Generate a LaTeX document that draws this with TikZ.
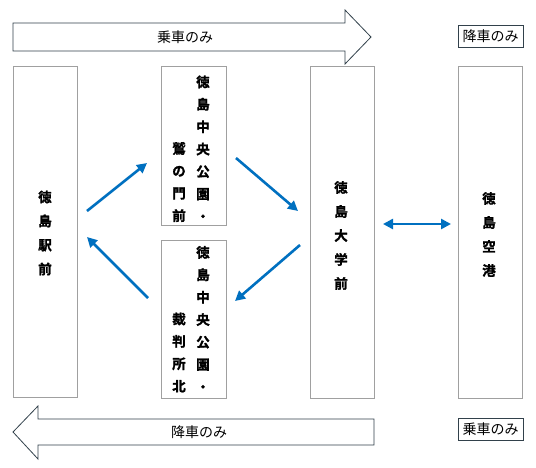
\documentclass[tikz,border=0pt]{standalone}
\usepackage{fontspec}
\setmainfont{Noto Sans CJK JP}
\newfontfamily\jpbold[FakeBold=1.6]{Noto Sans CJK JP Bold}
\usetikzlibrary{arrows.meta}
\definecolor{flowblue}{RGB}{0,112,192}
\definecolor{boxgray}{RGB}{160,160,160}
\definecolor{outline}{RGB}{50,65,75}
\tikzset{
  station/.style={draw=boxgray, line width=0.9pt, inner sep=0pt},
  vtext/.style={font=\jpbold\fontsize{13.5}{24}\selectfont, align=center, inner sep=0pt},
  vtextm/.style={font=\jpbold\fontsize{13.5}{22.4}\selectfont, align=center, inner sep=0pt},
  bigarrow/.style={draw=outline, line width=0.8pt, fill=white},
  tag/.style={draw=outline, line width=1pt, font=\fontsize{14}{16}\selectfont, inner sep=0pt, minimum width=65pt, minimum height=22pt},
  arrowlbl/.style={font=\fontsize{14}{16}\selectfont, inner sep=0pt},
  flow/.style={draw=flowblue, line width=2.6pt, -{Triangle[length=10pt,width=10pt]}},
  flowboth/.style={draw=flowblue, line width=2.6pt, {Triangle[length=10pt,width=10pt]}-{Triangle[length=10pt,width=10pt]}}
}
\begin{document}
\begin{tikzpicture}[x=1pt,y=-1pt]
\useasboundingbox[fill=white] (0,0) rectangle (536,467);
% big arrows
\draw[bigarrow] (13,23) -- (345,23) -- (345,10) -- (371,37) -- (345,64) -- (345,51) -- (13,51) -- cycle;
\node[arrowlbl] (toplbl) at (185,37) {乗車のみ};
\draw[bigarrow] (374,419) -- (38,419) -- (38,406) -- (13,432) -- (38,459) -- (38,445) -- (374,445) -- cycle;
\node[arrowlbl] (botlbl) at (199,432) {降車のみ};
% tags
\node[tag] (tagtop) at (490.5,36.5) {降車のみ};
\node[tag] (tagbot) at (490.5,429) {乗車のみ};
% station boxes
\node[station, minimum width=64pt, minimum height=331pt] (ekimae) at (45,231.5) {};
\node[vtext] (ekimaetxt) at (45,233) {徳\\島\\駅\\前};
\node[station, minimum width=65pt, minimum height=159pt] (washi) at (193.5,145.5) {};
\node[vtextm] (washiR) at (203,148.5) {徳\\島\\中\\央\\公\\園\\・};
\node[vtextm] (washiL) at (179,182) {鷲\\の\\門\\前};
\node[station, minimum width=65pt, minimum height=158pt] (saiban) at (193.5,319) {};
\node[vtextm] (saibanR) at (203,319) {徳\\島\\中\\央\\公\\園\\・};
\node[vtextm] (saibanL) at (179,352.5) {裁\\判\\所\\北};
\node[station, minimum width=64pt, minimum height=332pt] (daigaku) at (342,232) {};
\node[vtext] (daigakutxt) at (341,235.5) {徳\\島\\大\\学\\前};
\node[station, minimum width=64pt, minimum height=332pt] (kuko) at (490,232) {};
\node[vtext] (kukotxt) at (489,234.5) {徳\\島\\空\\港};
% flow arrows
\coordinate (a1s) at (87,211); \coordinate (a1e) at (147,163);
\coordinate (a2s) at (236,158); \coordinate (a2e) at (298,211);
\coordinate (a3s) at (300,245); \coordinate (a3e) at (235,301);
\coordinate (a4s) at (148,298); \coordinate (a4e) at (87,237);
\coordinate (a5s) at (383,224); \coordinate (a5e) at (451,224);
\draw[flow] (a1s) -- (a1e);
\draw[flow] (a2s) -- (a2e);
\draw[flow] (a3s) -- (a3e);
\draw[flow] (a4s) -- (a4e);
\draw[flowboth] (a5s) -- (a5e);
\end{tikzpicture}
\end{document}
